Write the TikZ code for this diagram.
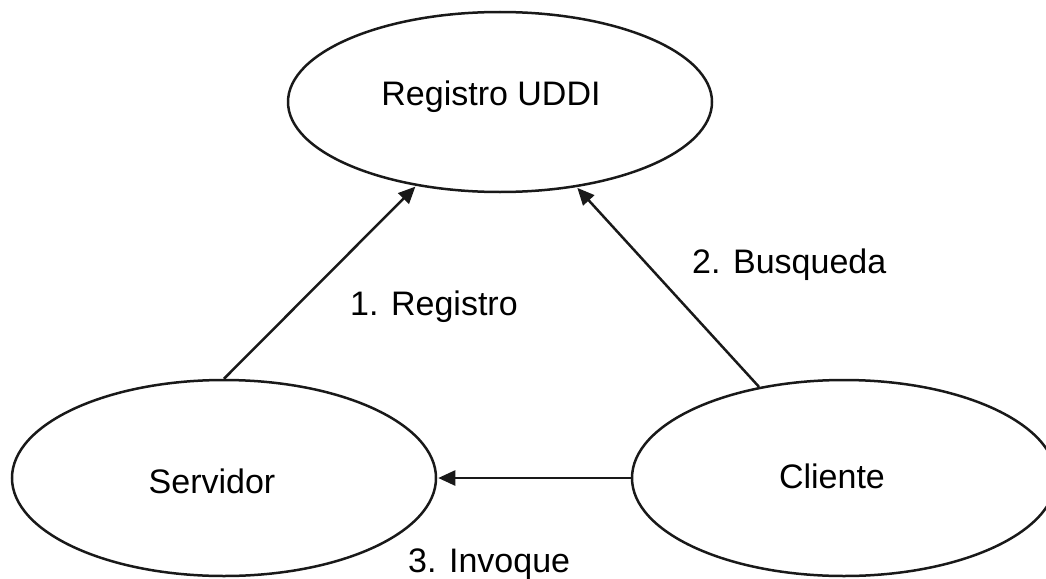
\documentclass[tikz,border=0pt]{standalone}
\usepackage{fontspec}
\setmainfont{Liberation Sans}
\usetikzlibrary{shapes.geometric,arrows.meta}

\tikzset{
  entity/.style={draw=black!90, line width=2.5pt, ellipse, inner sep=0pt,
                 minimum width=424pt, minimum height=196pt},
  bigtext/.style={inner sep=0pt, font=\fontsize{34}{40}\selectfont, text=black},
  flow/.style={draw=black!90, line width=2.5pt,
               -{Triangle[length=17pt,width=15pt]}, shorten >=1pt}
}

\begin{document}
\begin{tikzpicture}[x=1pt,y=-1pt]
  \useasboundingbox (0,0) rectangle (1046,578);

  % the three parties
  \node[entity, minimum height=180pt] (reg) at (500,102) {};
  \node[entity] (serv) at (224,478) {};
  \node[entity] (cli) at (844,478) {};

  % their names
  \node[bigtext, anchor=base] (regname)  at (491,105) {Registro UDDI};
  \node[bigtext, anchor=base] (servname) at (212,493) {Servidor};
  \node[bigtext, anchor=base] (cliname)  at (832,488) {Cliente};

  % the interactions
  \draw[flow] (serv.north) -- (reg.225);
  \draw[flow] (cli.133) -- (reg.312);
  \draw[flow] (cli.west) -- (serv.east);

  % step labels
  \node[bigtext, anchor=base west] (l1) at (350,315) {1. Registro};
  \node[bigtext, anchor=base west] (l2) at (692,273) {2. Busqueda};
  \node[bigtext, anchor=base west] (l3) at (408,572) {3. Invoque};
\end{tikzpicture}
\end{document}
